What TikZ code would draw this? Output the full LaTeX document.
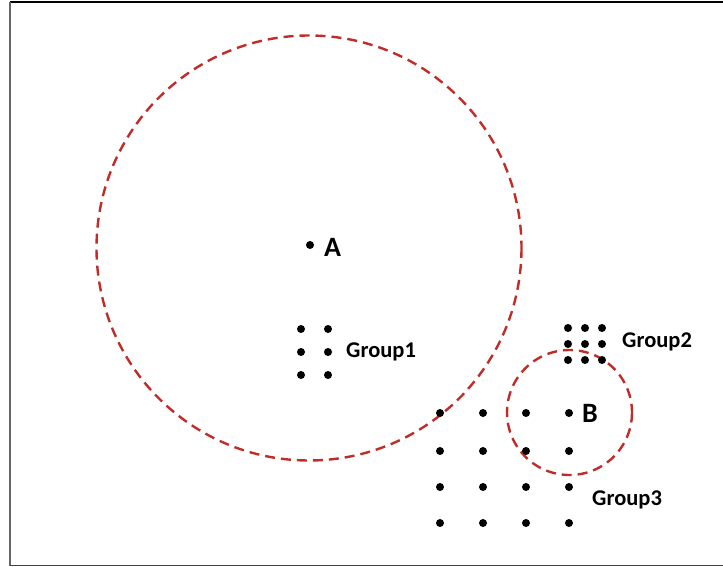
\documentclass[tikz,border=0pt]{standalone}
\usepackage{fontspec}
\setmainfont{Carlito}
\definecolor{dashred}{RGB}{192,45,40}
\tikzset{
  dot/.style={circle,fill=black,inner sep=0pt,minimum size=8pt},
  grouplbl/.style={font=\bfseries\fontsize{22.5}{26}\selectfont,inner sep=0pt,anchor=west},
  ptlbl/.style={font=\bfseries\fontsize{28}{32}\selectfont,inner sep=0pt,anchor=west},
  reach/.style={draw=dashred,line width=2.4pt,dash pattern=on 10pt off 6pt}
}
\begin{document}
\begin{tikzpicture}[x=1pt,y=-1pt]
\useasboundingbox (0,0) rectangle (723,567);
% frame
\draw[black,line width=1.6pt] (10,2) -- (723,2);
\draw[gray!80!black,line width=1.6pt] (10,2) -- (10,566);
\draw[black!75,line width=1.6pt] (10,565.5) -- (723,565.5);
% circles
\draw[reach] (309,248) circle (212.5);
\draw[reach] (569.5,412.5) circle (62.5);
% A
\node[dot] (A) at (310,245) {};
\node[ptlbl] (Alab) at (324,247) {A};
% Group1
\foreach \i/\x in {1/301,2/328}
  \foreach \j/\y in {1/329,2/352,3/375}
    \node[dot] (ga\i\j) at (\x,\y) {};
\node[grouplbl] (g1lab) at (346,352) {Group1};
% Group2
\foreach \i/\x in {1/568,2/585,3/602}
  \foreach \j/\y in {1/328,2/344,3/360}
    \node[dot] (gb\i\j) at (\x,\y) {};
\node[grouplbl] (g2lab) at (622,342) {Group2};
% Group3
\foreach \i/\x in {1/440,2/483,3/526,4/569}
  \foreach \j/\y in {1/413,2/451,3/487,4/523}
    \node[dot] (gc\i\j) at (\x,\y) {};
\node[ptlbl] (Blab) at (582,413) {B};
\node[grouplbl] (g3lab) at (592,500) {Group3};
\end{tikzpicture}
\end{document}
